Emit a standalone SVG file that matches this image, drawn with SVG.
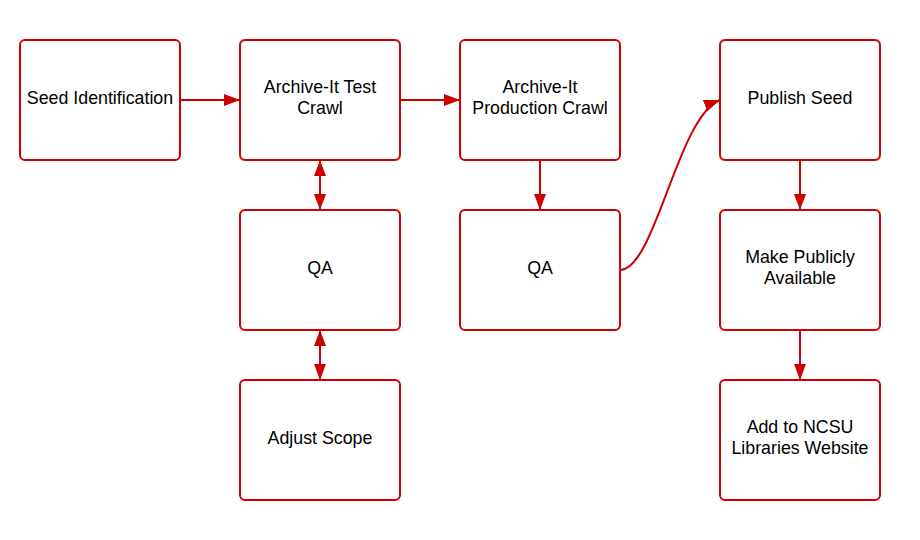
<svg xmlns="http://www.w3.org/2000/svg" width="920" height="540" viewBox="0 0 920 540">
<defs>
<style>
.box{fill:#fff;stroke:#cc0000;stroke-width:2}
.lbl{font-family:"Liberation Sans",Arial,sans-serif;font-size:17.8px;fill:#000;text-anchor:middle}
.c{fill:none;stroke:#cc0000;stroke-width:2}
</style>
<marker id="ah" viewBox="0 0 16 12" refX="16" refY="6" markerWidth="16" markerHeight="12" markerUnits="userSpaceOnUse" orient="auto-start-reverse">
<path d="M0,0 L16,6 L0,12 Z" fill="#cc0000"/>
</marker>
</defs>
<rect width="920" height="540" fill="#fff"/>
<g id="connectors">
<path class="c" d="M180,100 H240" marker-end="url(#ah)"/>
<path class="c" d="M400,100 H460" marker-end="url(#ah)"/>
<path class="c" d="M320,160 V210" marker-start="url(#ah)" marker-end="url(#ah)"/>
<path class="c" d="M320,330 V380" marker-start="url(#ah)" marker-end="url(#ah)"/>
<path class="c" d="M540,160 V210" marker-end="url(#ah)"/>
<path class="c" d="M620,270 C655,270 678,116 720,100" marker-end="url(#ah)"/>
<path class="c" d="M800,160 V210" marker-end="url(#ah)"/>
<path class="c" d="M800,330 V380" marker-end="url(#ah)"/>
</g>
<g id="seed-identification"><rect class="box" x="20" y="40" width="160" height="120" rx="5"/><text class="lbl" x="100" y="104">Seed Identification</text></g>
<g id="test-crawl"><rect class="box" x="240" y="40" width="160" height="120" rx="5"/><text class="lbl" x="320" y="93">Archive-It Test</text><text class="lbl" x="320" y="114">Crawl</text></g>
<g id="production-crawl"><rect class="box" x="460" y="40" width="160" height="120" rx="5"/><text class="lbl" x="540" y="93">Archive-It</text><text class="lbl" x="540" y="114">Production Crawl</text></g>
<g id="publish-seed"><rect class="box" x="720" y="40" width="160" height="120" rx="5"/><text class="lbl" x="800" y="104">Publish Seed</text></g>
<g id="qa-1"><rect class="box" x="240" y="210" width="160" height="120" rx="5"/><text class="lbl" x="320" y="274">QA</text></g>
<g id="qa-2"><rect class="box" x="460" y="210" width="160" height="120" rx="5"/><text class="lbl" x="540" y="274">QA</text></g>
<g id="make-public"><rect class="box" x="720" y="210" width="160" height="120" rx="5"/><text class="lbl" x="800" y="263">Make Publicly</text><text class="lbl" x="800" y="284">Available</text></g>
<g id="adjust-scope"><rect class="box" x="240" y="380" width="160" height="120" rx="5"/><text class="lbl" x="320" y="444">Adjust Scope</text></g>
<g id="add-ncsu"><rect class="box" x="720" y="380" width="160" height="120" rx="5"/><text class="lbl" x="800" y="433">Add to NCSU</text><text class="lbl" x="800" y="454">Libraries Website</text></g>
</svg>
